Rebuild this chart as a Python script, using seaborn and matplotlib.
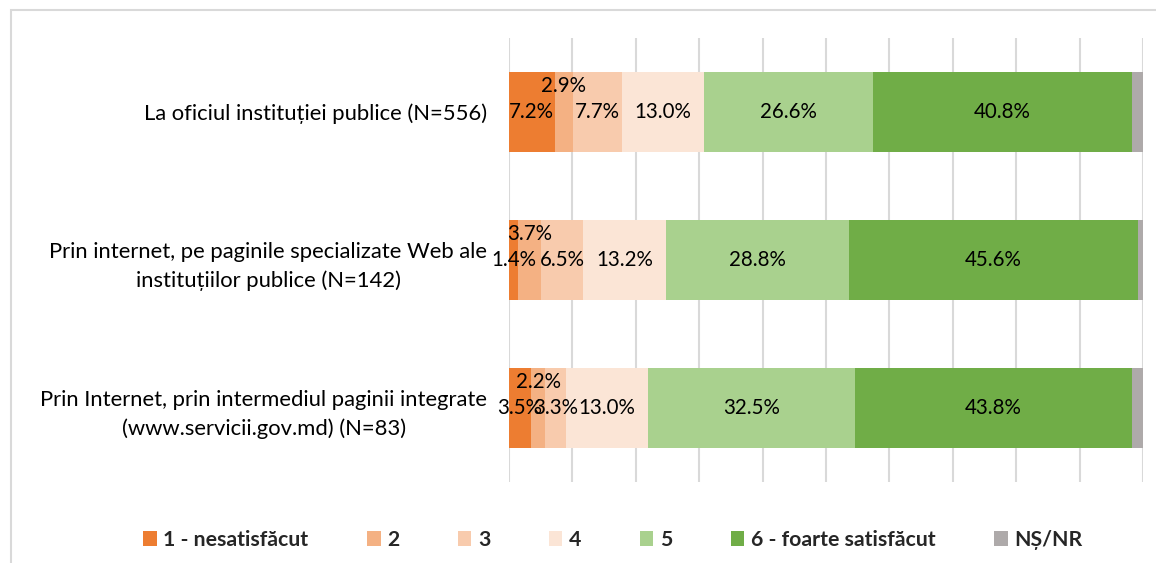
import matplotlib
matplotlib.use("Agg")
import matplotlib.pyplot as plt
from matplotlib.patches import Rectangle, Patch
import numpy as np
import pandas as pd
import seaborn as sns

# Survey groups (one bar each)
categories = [
    "La oficiul instituției publice (N=556)",
    "Prin internet, pe paginile specializate Web ale\ninstituțiilor publice (N=142)",
    "Prin Internet, prin intermediul paginii integrate\n(www.servicii.gov.md) (N=83)",
]

# Satisfaction levels, in stacking order
levels = ["1 - nesatisfăcut", "2", "3", "4", "5", "6 - foarte satisfăcut", "NȘ/NR"]

# Shares (%) per level, one value per group
level_1 = [7.2, 1.4, 3.5]
level_2 = [2.9, 3.7, 2.2]
level_3 = [7.7, 6.5, 3.3]
level_4 = [13.0, 13.2, 13.0]
level_5 = [26.6, 28.8, 32.5]
level_6 = [40.8, 45.6, 43.8]
ns_nr = [1.8, 0.8, 1.7]

colors = ["#ED7D31", "#F4B183", "#F8CBAD", "#FBE5D6", "#A9D18E", "#70AD47", "#AEAAAA"]

series = [level_1, level_2, level_3, level_4, level_5, level_6, ns_nr]
values = np.array(series)            # shape: levels x groups
cum = np.cumsum(values, axis=0)      # right edge of each segment

sns.set_theme(style="white")
plt.rcParams["font.family"] = ["Lato", "DejaVu Sans"]

fig = plt.figure(figsize=(11.56, 5.63), dpi=100)
ax = fig.add_axes([509 / 1156, 1 - 482 / 563, (1143 - 509) / 1156, (482 - 38) / 563])

# Stacked bars: draw cumulative totals from the outermost level inward
for i in range(len(levels) - 1, -1, -1):
    df = pd.DataFrame({"group": categories, "value": cum[i]})
    sns.barplot(data=df, x="value", y="group", orient="h", order=categories,
                color=colors[i], width=0.535, saturation=1, ax=ax,
                linewidth=0, zorder=3)

# Value labels centred in each segment (the narrow level "2" sits above)
for i in range(len(levels) - 1):
    for j in range(len(categories)):
        v = values[i, j]
        xc = cum[i, j] - v / 2
        dy = 19 if i == 1 else 0
        ax.annotate(f"{v:.1f}%", (xc, j), xytext=(0, dy), textcoords="offset points",
                    ha="center", va="center", fontsize=14.8, color="black", zorder=5)

ax.set_xlim(0, 100)
ax.set_ylim(2.5, -0.5)
ax.set_xticks(np.arange(0, 101, 10))
ax.set_xticklabels([])
ax.xaxis.grid(True, color="#D9D9D9", linewidth=1.5, zorder=0)
ax.yaxis.grid(False)
ax.set_axisbelow(True)
ax.set_xlabel("")
ax.set_ylabel("")
for s in ax.spines.values():
    s.set_visible(False)
ax.tick_params(axis="x", length=0)
ax.tick_params(axis="y", length=0, pad=15.5, labelsize=15.8, labelcolor="black")
for lab in ax.get_yticklabels():
    lab.set_multialignment("center")
    lab.set_linespacing(1.5)

# Legend along the bottom
handles = [Patch(facecolor=c, edgecolor="none") for c in colors]
leg = fig.legend(handles, levels, loc="center", bbox_to_anchor=(0.53, 1 - 540 / 563),
                 ncol=7, frameon=False, handlelength=0.65, handleheight=0.65,
                 handletextpad=0.3, columnspacing=2.75,
                 prop={"weight": "bold", "size": 15.3})

# Chart area border
fig.patches.append(Rectangle((11 / 1156, -0.05), 1.1, 1 - 10 / 563 + 0.05,
                             transform=fig.transFigure, fill=False,
                             edgecolor="#D9D9D9", linewidth=1.5, zorder=0))

fig.savefig("out.png", dpi=100)
